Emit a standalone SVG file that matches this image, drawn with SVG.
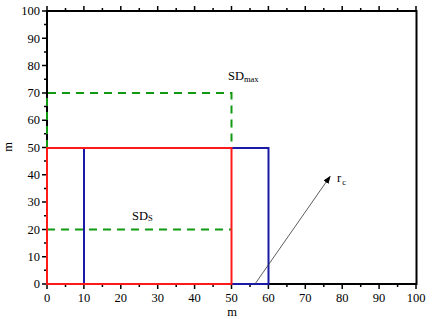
<svg xmlns="http://www.w3.org/2000/svg" width="432" height="319" viewBox="0 0 432 319">
<style>
text{font-family:"Liberation Serif","Times New Roman","DejaVu Serif",serif;fill:#000;font-size:12.5px}
.yl{text-anchor:end}
.xl{text-anchor:middle}
.ax{stroke:#000;stroke-width:2;fill:none}
.tk{stroke:#000;stroke-width:1.5}
.sub{font-size:8.5px}
.gd{fill:none;stroke:#119911;stroke-width:2;stroke-dasharray:8,6}
</style>
<defs>
<marker id="ah" markerWidth="8" markerHeight="8" refX="7" refY="4" orient="auto" markerUnits="userSpaceOnUse">
<path d="M0,1 L8,4 L0,7 Z" fill="#000"/>
</marker>
</defs>
<rect width="432" height="319" fill="#fff"/>
<g id="axes" font-family="Liberation Serif, Times New Roman, serif">
<rect class="ax" x="47" y="11" width="369.5" height="273"/>
<g class="tk">
<path d="M47,284v5 M65.5,284v3 M83.9,284v5 M102.4,284v3 M120.8,284v5 M139.3,284v3 M157.7,284v5 M176.2,284v3 M194.6,284v5 M213.1,284v3 M231.5,284v5 M250,284v3 M268.4,284v5 M286.9,284v3 M305.3,284v5 M323.8,284v3 M342.2,284v5 M360.7,284v3 M379.1,284v5 M397.6,284v3 M416,284v5"/>
<path d="M47,11v-5 M65.5,11v-3 M83.9,11v-5 M102.4,11v-3 M120.8,11v-5 M139.3,11v-3 M157.7,11v-5 M176.2,11v-3 M194.6,11v-5 M213.1,11v-3 M231.5,11v-5 M250,11v-3 M268.4,11v-5 M286.9,11v-3 M305.3,11v-5 M323.8,11v-3 M342.2,11v-5 M360.7,11v-3 M379.1,11v-5 M397.6,11v-3 M416,11v-5"/>
<path d="M47,284h-5 M47,270.3h-3 M47,256.7h-5 M47,243h-3 M47,229.4h-5 M47,215.7h-3 M47,202.1h-5 M47,188.4h-3 M47,174.8h-5 M47,161.1h-3 M47,147.5h-5 M47,133.8h-3 M47,120.2h-5 M47,106.5h-3 M47,92.9h-5 M47,79.2h-3 M47,65.6h-5 M47,51.9h-3 M47,38.3h-5 M47,24.6h-3 M47,11h-5"/>
</g>
<g class="yl">
<text x="40" y="288">0</text>
<text x="40" y="261">10</text>
<text x="40" y="233.5">20</text>
<text x="40" y="206">30</text>
<text x="40" y="179">40</text>
<text x="40" y="151.5">50</text>
<text x="40" y="124">60</text>
<text x="40" y="97">70</text>
<text x="40" y="69.5">80</text>
<text x="40" y="42.5">90</text>
<text x="40" y="15">100</text>
</g>
<g class="xl">
<text x="47" y="302">0</text>
<text x="83.9" y="302">10</text>
<text x="120.8" y="302">20</text>
<text x="157.7" y="302">30</text>
<text x="194.6" y="302">40</text>
<text x="231.5" y="302">50</text>
<text x="268.4" y="302">60</text>
<text x="305.3" y="302">70</text>
<text x="342.2" y="302">80</text>
<text x="379.1" y="302">90</text>
<text x="416" y="302">100</text>
</g>
<text class="xl" x="232" y="316">m</text>
<text class="xl" transform="translate(12,147) rotate(-90)">m</text>
</g>
<g id="sdmax">
<path class="gd" d="M47,148 V93 H231.5 V148"/>
<text x="228" y="80">SD<tspan class="sub" dy="2">max</tspan></text>
</g>
<g id="sds">
<path class="gd" d="M47,229.4 H231.5"/>
<text x="132" y="219.5">SD<tspan class="sub" dy="1">S</tspan></text>
</g>
<g id="blue">
<path d="M84,284 V148 H98 M231.5,148 H268.5 V284 H231.5" fill="none" stroke="#1a1aa6" stroke-width="2"/>
</g>
<g id="red">
<rect x="47" y="148" width="184.5" height="136" fill="none" stroke="#ff1a1a" stroke-width="2"/>
</g>
<g id="connectors">
<line x1="255" y1="284" x2="330" y2="176.5" stroke="#333" stroke-width="0.8" marker-end="url(#ah)"/>
</g>
<g id="rc">
<text x="337" y="182">r<tspan class="sub" dx="1" dy="3">c</tspan></text>
</g>
</svg>
